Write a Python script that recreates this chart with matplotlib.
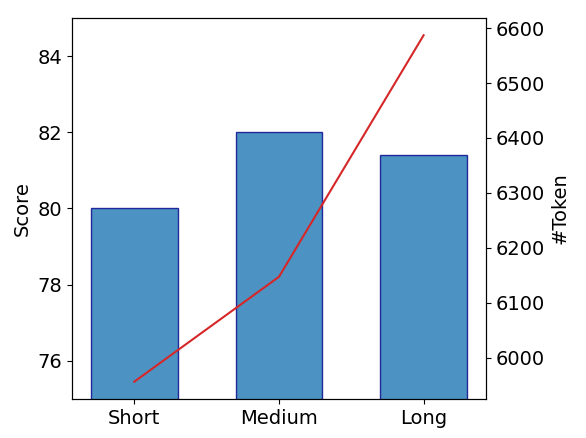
import numpy as np
import matplotlib
matplotlib.use("Agg")
import matplotlib.pyplot as plt

categories = ["Short", "Medium", "Long"]
scores = [80.0, 82.0, 81.4]
tokens = [5956, 6147, 6587]

plt.rcParams['font.size'] = 14

fig, ax = plt.subplots(figsize=(5.86, 4.38), dpi=100)
x = np.arange(len(categories))
ax.bar(x, scores, width=0.6, color='tab:blue', alpha=0.8, edgecolor='darkblue')
ax.set_ylim(75, 85)
ax.set_xticks(x)
ax.set_xticklabels(categories)
ax.set_ylabel("Score")

ax2 = ax.twinx()
ax2.plot(x, tokens, color='tab:red')
ax2.set_ylabel("#Token")

fig.subplots_adjust(left=0.123, right=0.829, top=0.959, bottom=0.089)
fig.savefig("out.png")
